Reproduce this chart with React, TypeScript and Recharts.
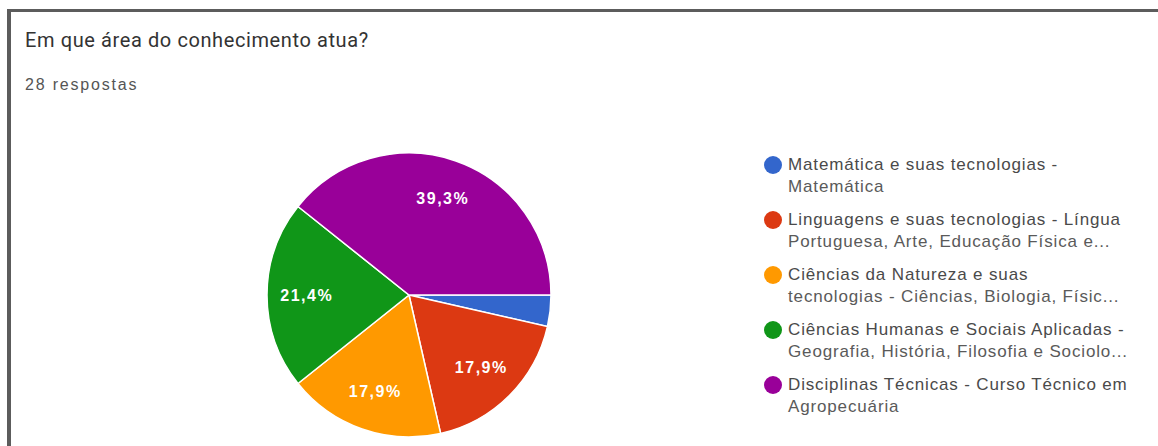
import React from 'react';
import { PieChart, Pie, Cell, Legend } from 'recharts';

// Respostas por área do conhecimento (28 no total)
const categories = [
	'Matemática e suas tecnologias - Matemática',
	'Linguagens e suas tecnologias - Língua Portuguesa, Arte, Educação Física e...',
	'Ciências da Natureza e suas tecnologias - Ciências, Biologia, Físic...',
	'Ciências Humanas e Sociais Aplicadas - Geografia, História, Filosofia e Sociolo...',
	'Disciplinas Técnicas - Curso Técnico em Agropecuária',
];
const responses = [1, 5, 5, 6, 11];
const legendLines = [
	['Matemática e suas tecnologias -', 'Matemática'],
	['Linguagens e suas tecnologias - Língua', 'Portuguesa, Arte, Educação Física e...'],
	['Ciências da Natureza e suas', 'tecnologias - Ciências, Biologia, Físic...'],
	['Ciências Humanas e Sociais Aplicadas -', 'Geografia, História, Filosofia e Sociolo...'],
	['Disciplinas Técnicas - Curso Técnico em', 'Agropecuária'],
];
const sliceColors = ['#3366cc', '#dc3912', '#ff9900', '#109618', '#990099'];

const pieData = categories.map((name, i) => ({ name, value: responses[i] }));

const RADIAN = Math.PI / 180;

const renderLabel = (props: any) => {
	const { cx, cy, midAngle, outerRadius, percent } = props;
	if (percent < 0.05) return null;
	const r = outerRadius * 0.72;
	const x = cx + r * Math.cos(-midAngle * RADIAN);
	const y = cy + r * Math.sin(-midAngle * RADIAN);
	return (
		<text
			x={x}
			y={y}
			fill="#ffffff"
			textAnchor="middle"
			dominantBaseline="central"
			fontFamily="'Liberation Sans', Arial, sans-serif"
			fontSize={16}
			fontWeight="bold"
			letterSpacing={1.5}
		>
			{(percent * 100).toFixed(1).replace('.', ',') + '%'}
		</text>
	);
};

const renderLegend = () => (
	<div
		style={{
			fontFamily: "'Liberation Sans', Arial, sans-serif",
			fontSize: 17,
			letterSpacing: 0.85,
			color: '#4a4a4a',
			whiteSpace: 'nowrap',
		}}
	>
		{legendLines.map((lines, i) => (
			<div key={`leg-${i}`} style={{ position: 'relative', paddingLeft: 26, marginBottom: 11, lineHeight: '22px' }}>
				<span
					style={{
						position: 'absolute',
						left: 2,
						top: 2,
						width: 18,
						height: 18,
						borderRadius: '50%',
						background: sliceColors[i],
					}}
				/>
				<div>{lines[0]}</div>
				<div style={{ color: '#5a5a5a' }}>{lines[1]}</div>
			</div>
		))}
	</div>
);

export default function App() {
	return (
		<div
			style={{
				position: 'absolute',
				left: 0,
				top: 0,
				width: 1158,
				height: 446,
				background: '#ffffff',
				overflow: 'hidden',
			}}
		>
			<div
				style={{
					position: 'absolute',
					left: 7,
					top: 9,
					width: 1160,
					height: 440,
					borderTop: '3px solid #5c5c5c',
					borderLeft: '4px solid #5c5c5c',
					boxSizing: 'border-box',
				}}
			/>
			<div
				style={{
					position: 'absolute',
					left: 25,
					top: 28,
					fontFamily: 'Roboto, sans-serif',
					fontSize: 20,
					color: '#333333',
					letterSpacing: 0.6,
					whiteSpace: 'nowrap',
				}}
			>
				Em que área do conhecimento atua?
			</div>
			<div
				style={{
					position: 'absolute',
					left: 25,
					top: 76,
					fontFamily: "'Liberation Sans', Arial, sans-serif",
					fontSize: 16,
					color: '#555555',
					letterSpacing: 1.8,
				}}
			>
				28 respostas
			</div>
			<div style={{ position: 'absolute', left: 0, top: 0 }}>
				<PieChart width={1158} height={446}>
					<Pie
						data={pieData}
						dataKey="value"
						nameKey="name"
						cx={404}
						cy={290}
						outerRadius={142}
						startAngle={0}
						endAngle={-360}
						stroke="#ffffff"
						strokeWidth={1.5}
						label={renderLabel}
						labelLine={false}
						isAnimationActive={false}
					>
						{pieData.map((entry, index) => (
							<Cell key={`cell-${index}`} fill={sliceColors[index % sliceColors.length]} />
						))}
					</Pie>
					<Legend
						content={renderLegend}
						wrapperStyle={{ position: 'absolute', left: 762, top: 154, width: 396 }}
					/>
				</PieChart>
			</div>
		</div>
	);
}
